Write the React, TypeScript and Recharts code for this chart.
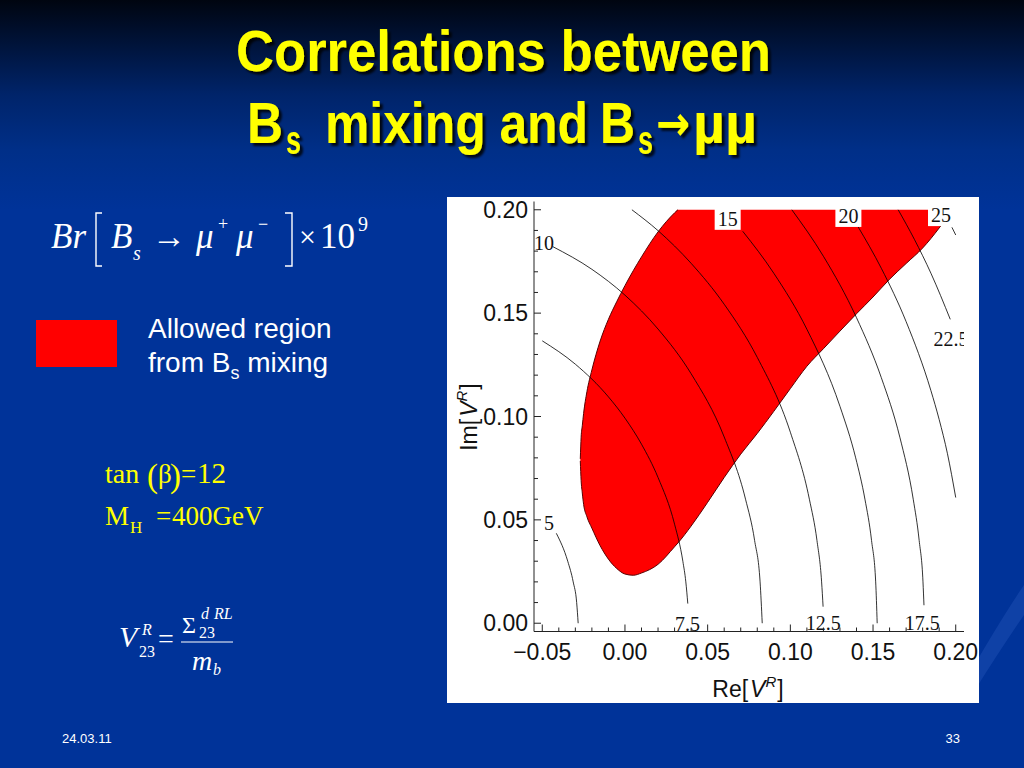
import { ComposedChart, Area, Line, Scatter, XAxis, YAxis } from 'recharts'

// axis ticks (major every 0.05, minor every 0.01)
const xTicks = [-0.05, -0.04, -0.03, -0.02, -0.01, 0, 0.01, 0.02, 0.03, 0.04, 0.05, 0.06, 0.07, 0.08, 0.09, 0.1, 0.11, 0.12, 0.13, 0.14, 0.15, 0.16, 0.17, 0.18, 0.19, 0.2]
const yTicks = [0, 0.01, 0.02, 0.03, 0.04, 0.05, 0.06, 0.07, 0.08, 0.09, 0.1, 0.11, 0.12, 0.13, 0.14, 0.15, 0.16, 0.17, 0.18, 0.19, 0.2]

// allowed region from Bs mixing: lower / upper edge of Im[V] at each Re[V]
const regionX = [-0.027, -0.0265, -0.0258, -0.025, -0.023, -0.02, -0.015, -0.01, -0.005, 0, 0.005, 0.01, 0.02, 0.03, 0.032, 0.04, 0.05, 0.06, 0.07, 0.08, 0.09, 0.1, 0.11, 0.12, 0.13, 0.14, 0.15, 0.16, 0.17, 0.18, 0.19, 0.1915]
const regionLow = [0.0785, 0.069, 0.063, 0.0575, 0.0515, 0.046, 0.0375, 0.031, 0.0265, 0.0238, 0.0232, 0.0243, 0.0285, 0.037, 0.0388, 0.047, 0.0585, 0.0705, 0.0818, 0.0918, 0.1025, 0.1135, 0.1243, 0.1328, 0.1413, 0.1497, 0.1578, 0.1664, 0.174, 0.1815, 0.1912, 0.1928]
const regionHigh = [0.0795, 0.09, 0.0955, 0.1015, 0.112, 0.1225, 0.1365, 0.147, 0.1555, 0.1633, 0.1705, 0.1772, 0.1893, 0.1985, 0.2, 0.2, 0.2, 0.2, 0.2, 0.2, 0.2, 0.2, 0.2, 0.2, 0.2, 0.2, 0.2, 0.2, 0.2, 0.2, 0.2, 0.196]

// Br contours (x = Re, y = Im)
const c5X = [-0.0415, -0.0346, -0.0313, -0.0292, -0.0283]
const c5Y = [0.0435, 0.03, 0.02, 0.01, 0]
const c75X = [-0.05, -0.03, -0.01, 0, 0.01, 0.02, 0.03, 0.035, 0.0368, 0.038]
const c75Y = [0.1366, 0.1253, 0.1095, 0.0992, 0.0866, 0.0705, 0.0479, 0.03, 0.02, 0.0095]
const c10X = [-0.0437, -0.02, 0, 0.02, 0.04, 0.06, 0.0729, 0.0784, 0.0817, 0.083]
const c10Y = [0.1822, 0.1712, 0.1587, 0.1423, 0.1207, 0.0901, 0.06, 0.04, 0.02, 0]
const c125X = [0.0042, 0.02, 0.04, 0.06, 0.08, 0.1, 0.1115, 0.1161, 0.1189, 0.1198]
const c125Y = [0.2, 0.1899, 0.1741, 0.1543, 0.1286, 0.0924, 0.06, 0.04, 0.02, 0.008]
const c15X = [0.0712, 0.09, 0.11, 0.13, 0.1395, 0.1451, 0.1491, 0.1516, 0.1525]
const c15Y = [0.1896, 0.1693, 0.1422, 0.1049, 0.08, 0.06, 0.04, 0.02, 0]
const c175X = [0.1009, 0.12, 0.14, 0.155, 0.1662, 0.1743, 0.1779, 0.1802, 0.1808]
const c175Y = [0.2, 0.1775, 0.1478, 0.1188, 0.09, 0.06, 0.04, 0.02, 0.0087]
const c20X = [0.141, 0.155, 0.17, 0.185, 0.19, 0.195, 0.2]
const c20Y = [0.1917, 0.1717, 0.1459, 0.1125, 0.0985, 0.082, 0.0608]
const c225X = [0.1652, 0.175, 0.185, 0.1967]
const c225Y = [0.2, 0.1857, 0.1693, 0.147]
const c25X = [0.1977, 0.2]
const c25Y = [0.1915, 0.1878]

// contour labels
const tagText = ['5', '7.5', '10', '12.5', '15', '17.5', '20', '22.5', '25']
const tagX = [-0.046, 0.0378, -0.0489, 0.1199, 0.0621, 0.1797, 0.1351, 0.1972, 0.1911]
const tagY = [0.0489, 0.0002, 0.1843, 0.0005, 0.1961, 0.0005, 0.1975, 0.138, 0.1979]
const tagBoxed = [false, false, false, false, true, false, true, false, true]

const regionRows = regionX.map((x, i) => ({
  x,
  range: [regionLow[i], regionHigh[i]],
  low: regionLow[i],
  edge: regionHigh[i] < 0.2 || i === 14 || i >= 30 ? regionHigh[i] : null,
}))

const toPts = (xs: number[], ys: number[]) => xs.map((x, i) => ({ x, y: ys[i] }))
const contours = [
  toPts(c5X, c5Y), toPts(c75X, c75Y), toPts(c10X, c10Y), toPts(c125X, c125Y), toPts(c15X, c15Y),
  toPts(c175X, c175Y), toPts(c20X, c20Y), toPts(c225X, c225Y), toPts(c25X, c25Y),
]
const tags = tagText.map((text, i) => ({ x: tagX[i], y: tagY[i], text, boxed: tagBoxed[i] }))

const sans = "'Liberation Sans', Arial, sans-serif"
const serif = "'Liberation Serif', 'Times New Roman', serif"
const FRAME = '#222'

// chart geometry (svg placed on the white panel)
const CHART_W = 533
const CHART_H = 507
const Y_AXIS_W = 87
const PLOT_W = 430
const PLOT_RIGHT = Y_AXIS_W + PLOT_W

const isMajor = (v: number) => Math.abs(v * 20 - Math.round(v * 20)) < 1e-6
const fmt = (v: number) => (v < 0 ? '\u2212' : '') + Math.abs(v).toFixed(2)

function BottomTick({ x, y, payload }: any) {
  const major = isMajor(payload.value)
  return (
    <g>
      <line x1={x} x2={x} y1={y} y2={y - (major ? 7 : 4)} stroke={FRAME} />
      {major && (
        <text x={x} y={y + 28} textAnchor="middle" fontSize={23} fontFamily={sans} fill="#111">
          {fmt(payload.value)}
        </text>
      )}
    </g>
  )
}

function TopTick({ x, y, payload }: any) {
  const major = isMajor(payload.value)
  return <line x1={x} x2={x} y1={y} y2={y + (major ? 7 : 4)} stroke={FRAME} />
}

function LeftTick({ x, y, payload }: any) {
  const major = isMajor(payload.value)
  return (
    <g>
      <line x1={x} x2={x + (major ? 7 : 4)} y1={y} y2={y} stroke={FRAME} />
      {major && (
        <text x={x - 6} y={y} textAnchor="end" dominantBaseline="central" fontSize={23} fontFamily={sans} fill="#111">
          {fmt(payload.value)}
        </text>
      )}
    </g>
  )
}

function RightTick({ x, y, payload }: any) {
  const major = isMajor(payload.value)
  return <line x1={x} x2={x - (major ? 7 : 4)} y1={y} y2={y} stroke={FRAME} />
}

// contour level labels; the image cuts the ones that run past the frame
function ContourTag(props: any) {
  const { cx, cy, payload, index } = props
  if (cx == null || cy == null) return null
  const id = `tagclip-${index}`
  return (
    <g>
      <defs>
        <clipPath id={id}>
          <rect x={0} y={0} width={PLOT_RIGHT + 3} height={CHART_H} />
        </clipPath>
      </defs>
      {payload.boxed && <rect x={cx - 13} y={cy - 12} width={26} height={24} fill="#fff" />}
      <text x={cx} y={cy + 1} textAnchor="middle" dominantBaseline="central" fontSize={20} fontFamily={serif}
        fill="#111" clipPath={`url(#${id})`}>
        {payload.text}
      </text>
    </g>
  )
}

function Plot() {
  return (
    <ComposedChart width={CHART_W} height={CHART_H} data={regionRows}
      margin={{ top: 5.5, right: CHART_W - PLOT_RIGHT, bottom: 0, left: 0 }}>
      <XAxis xAxisId="b" dataKey="x" type="number" orientation="bottom" domain={[-0.055, 0.205]} allowDataOverflow
        ticks={xTicks} interval={0} tick={<BottomTick />} tickLine={false} tickSize={0} tickMargin={0}
        height={71.5} axisLine={{ stroke: FRAME }} />
      <XAxis xAxisId="t" dataKey="x" type="number" orientation="top" domain={[-0.055, 0.205]} allowDataOverflow
        ticks={xTicks} interval={0} tick={<TopTick />} tickLine={false} tickSize={0} tickMargin={0}
        height={0} axisLine={{ stroke: FRAME }} />
      <YAxis yAxisId="l" type="number" orientation="left" domain={[-0.004, 0.204]} allowDataOverflow
        ticks={yTicks} interval={0} tick={<LeftTick />} tickLine={false} tickSize={0} tickMargin={0}
        width={Y_AXIS_W} axisLine={{ stroke: FRAME }} />
      <YAxis yAxisId="r" type="number" orientation="right" domain={[-0.004, 0.204]} allowDataOverflow
        ticks={yTicks} interval={0} tick={<RightTick />} tickLine={false} tickSize={0} tickMargin={0}
        width={0} axisLine={{ stroke: FRAME }} />

      <Area xAxisId="b" yAxisId="l" dataKey="range" type="monotone" fill="#ff0000" fillOpacity={1} stroke="none" isAnimationActive={false} />
      <Line xAxisId="b" yAxisId="l" dataKey="low" type="monotone" stroke="#5a0000" strokeWidth={1} dot={false} activeDot={false} isAnimationActive={false} />
      <Line xAxisId="b" yAxisId="l" dataKey="edge" type="monotone" stroke="#5a0000" strokeWidth={1} dot={false} activeDot={false} connectNulls={false} isAnimationActive={false} />

      {contours.map((pts, i) => (
        <Line key={i} xAxisId="b" yAxisId="l" data={pts} dataKey="y" type="monotone" stroke="#000" strokeOpacity={0.8}
          strokeWidth={1} dot={false} activeDot={false} isAnimationActive={false} />
      ))}

      <Scatter xAxisId="b" yAxisId="l" data={tags} dataKey="y" shape={<ContourTag />} isAnimationActive={false} />
    </ComposedChart>
  )
}

export default function App() {
  return (
    <div style={{
      position: 'absolute', left: 0, top: 0, width: 1024, height: 768, overflow: 'hidden',
      background: 'linear-gradient(180deg, #000510 0px, #001236 40px, #00246a 95px, #002f88 150px, #003399 210px, #003399 768px)',
    }}>
      <svg width={1024} height={768} style={{ position: 'absolute', left: 0, top: 0 }}>
        <path d="M 960 690 Q 1000 620 1024 585 L 1024 615 Q 1000 650 975 690 Z" fill="#2a5cc0" opacity={0.35} />
      </svg>

      <div style={{ position: 'absolute', left: 447, top: 197, width: 532, height: 506, background: '#fff' }} />

      <svg width={1024} height={768} style={{ position: 'absolute', left: 0, top: 0 }}>
        <defs>
          <filter id="sh" x="-5%" y="-20%" width="110%" height="150%">
            <feDropShadow dx="3" dy="3" stdDeviation="1.2" floodColor="#000" floodOpacity="0.85" />
          </filter>
        </defs>

        {/* title */}
        <g fill="#ffff00" fontFamily={sans} fontWeight="bold" filter="url(#sh)">
          <text x={236} y={71} fontSize={57} textLength={535} lengthAdjust="spacingAndGlyphs">Correlations between</text>
          <text x={247} y={143} fontSize={57} textLength={36} lengthAdjust="spacingAndGlyphs">B</text>
          <text x={286} y={154} fontSize={40} textLength={15} lengthAdjust="spacingAndGlyphs">s</text>
          <text x={325} y={143} fontSize={57} textLength={263} lengthAdjust="spacingAndGlyphs">mixing and</text>
          <text x={600} y={143} fontSize={57} textLength={35} lengthAdjust="spacingAndGlyphs">B</text>
          <text x={638} y={154} fontSize={40} textLength={15} lengthAdjust="spacingAndGlyphs">s</text>
          <text x={656} y={140} fontSize={48} fontFamily="'DejaVu Sans', sans-serif" textLength={34} lengthAdjust="spacingAndGlyphs">{'\u2192'}</text>
          <text x={693} y={143} fontSize={57} textLength={64} lengthAdjust="spacingAndGlyphs">{'\u00b5\u00b5'}</text>
        </g>

        {/* Br[Bs -> mu+ mu-] x 10^9 */}
        <g fill="#fff" fontFamily={serif}>
          <text x={51} y={248} fontSize={35} fontStyle="italic">Br</text>
          <path d="M 102 213 L 96 213 L 96 266 L 102 266" stroke="#fff" strokeWidth={1.4} fill="none" />
          <text x={111} y={248} fontSize={35} fontStyle="italic">B</text>
          <text x={133} y={260} fontSize={20} fontStyle="italic">s</text>
          <text x={152} y={248} fontSize={35} textLength={34} lengthAdjust="spacingAndGlyphs">{'\u2192'}</text>
          <text x={196} y={248} fontSize={35} fontStyle="italic">{'\u03bc'}</text>
          <text x={218} y={230} fontSize={18}>+</text>
          <text x={236} y={248} fontSize={35} fontStyle="italic">{'\u03bc'}</text>
          <text x={258} y={230} fontSize={18}>{'\u2212'}</text>
          <path d="M 285 213 L 292 213 L 292 266 L 285 266" stroke="#fff" strokeWidth={1.4} fill="none" />
          <text x={299} y={247} fontSize={30}>{'\u00d7'}</text>
          <text x={320} y={248} fontSize={35}>10</text>
          <text x={358} y={231} fontSize={20}>9</text>
        </g>

        {/* legend */}
        <rect x={36} y={320} width={81} height={47} fill="#ff0000" />
        <g fill="#fff" fontFamily={sans} fontSize={28}>
          <text x={148} y={338}>Allowed region</text>
          <text x={148} y={372}>from B<tspan fontSize={18} dy={7}>s</tspan><tspan dy={-7}> mixing</tspan></text>
        </g>

        {/* parameters */}
        <g fill="#ffff00" fontFamily={serif}>
          <text x={105} y={483} fontSize={28}>tan</text>
          <text x={147} y={487} fontSize={33}>(</text>
          <text x={158} y={483} fontSize={27}>{'\u03b2'}</text>
          <text x={170} y={487} fontSize={33}>)</text>
          <text x={181} y={483} fontSize={27}>=</text>
          <text x={197} y={483} fontSize={29}>12</text>
          <text x={105} y={525} fontSize={27}>M</text>
          <text x={130} y={533} fontSize={17}>H</text>
          <text x={156} y={525} fontSize={27}>=</text>
          <text x={172} y={525} fontSize={27}>400GeV</text>
        </g>

        {/* V23^R = Sigma / m_b */}
        <g fill="#fff" fontFamily={serif}>
          <text x={119} y={647} fontSize={30} fontStyle="italic">V</text>
          <text x={142} y={635} fontSize={16} fontStyle="italic">R</text>
          <text x={139} y={657} fontSize={16}>23</text>
          <text x={158} y={648} fontSize={28}>=</text>
          <line x1={181} x2={233} y1={642} y2={642} stroke="#fff" strokeWidth={1.2} />
          <text x={182} y={633} fontSize={24}>{'\u03a3'}</text>
          <text x={201} y={619} fontSize={16} fontStyle="italic">d</text>
          <text x={214} y={619} fontSize={16} fontStyle="italic">RL</text>
          <text x={199} y={638} fontSize={16}>23</text>
          <text x={192} y={670} fontSize={28} fontStyle="italic">m</text>
          <text x={213} y={675} fontSize={16} fontStyle="italic">b</text>
        </g>

        {/* axis titles */}
        <text x={748} y={697} textAnchor="middle" fontSize={23} fontFamily={sans} fill="#111">
          Re<tspan fontWeight={300}>[</tspan><tspan fontStyle="italic" dx={2}>V</tspan><tspan fontStyle="italic" fontSize={15} dy={-10}>R</tspan><tspan dy={10} dx={1}>]</tspan>
        </text>
        <text x={477} y={417} textAnchor="middle" fontSize={23} fontFamily={sans} fill="#111" transform="rotate(-90 477 417)">
          Im<tspan>[</tspan><tspan fontStyle="italic" dx={2}>V</tspan><tspan fontStyle="italic" fontSize={15} dy={-10}>R</tspan><tspan dy={10} dx={1}>]</tspan>
        </text>

        {/* footer */}
        <text x={62} y={743} fontSize={13} fontFamily={sans} fill="#fff">24.03.11</text>
        <text x={960} y={743} textAnchor="end" fontSize={13} fontFamily={sans} fill="#fff">33</text>
      </svg>

      <div style={{ position: 'absolute', left: 447, top: 196 }}>
        <Plot />
      </div>
    </div>
  )
}
